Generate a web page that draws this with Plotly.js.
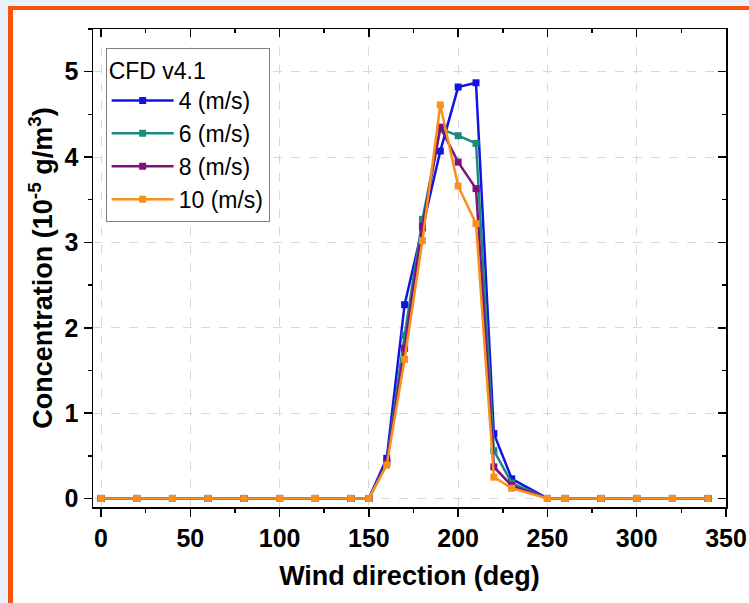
<!DOCTYPE html>
<html>
<head>
<meta charset="utf-8">
<script src="https://cdn.plot.ly/plotly-3.0.1.min.js"></script>
<style>
  html, body { margin: 0; padding: 0; background: #eaf1fb; width: 749px; height: 603px; overflow: hidden; }
  #frame { position: absolute; left: 8px; top: 6px; width: 741px; height: 597px; box-sizing: border-box;
           border-left: 5px solid #f5530f; border-top: 4px solid #f5530f; background: #ffffff; }
  #chart { position: absolute; left: 0; top: 0; width: 736px; height: 593px; }
</style>
</head>
<body>
<div id="frame"><div id="chart"></div></div>
<script>
const windDir = [0, 20, 40, 60, 80, 100, 120, 140, 150, 160, 170, 180, 190, 200, 210, 220, 230, 250, 260, 280, 300, 320, 340];
const conc4  = [0, 0, 0, 0, 0, 0, 0, 0, 0, 0.47, 2.27, 3.17, 4.07, 4.82, 4.87, 0.76, 0.23, 0, 0, 0, 0, 0, 0];
const conc6  = [0, 0, 0, 0, 0, 0, 0, 0, 0, 0.42, 1.91, 3.27, 4.33, 4.25, 4.16, 0.56, 0.18, 0, 0, 0, 0, 0, 0];
const conc8  = [0, 0, 0, 0, 0, 0, 0, 0, 0, 0.42, 1.76, 3.19, 4.35, 3.94, 3.63, 0.37, 0.15, 0, 0, 0, 0, 0, 0];
const conc10 = [0, 0, 0, 0, 0, 0, 0, 0, 0, 0.39, 1.63, 3.02, 4.61, 3.66, 3.22, 0.25, 0.12, 0, 0, 0, 0, 0, 0];
const seriesNames = ['4 (m/s)', '6 (m/s)', '8 (m/s)', '10 (m/s)'];
const seriesColors = ['#1414e0', '#1b8a80', '#7d127f', '#f7901e'];
const seriesValues = [conc4, conc6, conc8, conc10];

const traces = seriesValues.map((vals, i) => ({
  type: 'scatter', mode: 'lines+markers',
  x: windDir, y: vals, name: seriesNames[i],
  line: { color: seriesColors[i], width: 2.5 },
  marker: { color: seriesColors[i], symbol: 'square', size: 7 }
}));
// empty helper trace so the mirrored top/right axes are drawn
traces.push({ type: 'scatter', mode: 'markers', x: [], y: [], xaxis: 'x2', yaxis: 'y2', showlegend: false, hoverinfo: 'skip' });

const baseFont = 'Liberation Sans, Arial, sans-serif';
const xr = [-4.5, 350];
const yr = [-0.1, 5.5];

const layout = {
  width: 736, height: 593,
  margin: { l: 80, r: 23, t: 19, b: 96 },
  paper_bgcolor: 'rgba(0,0,0,0)',
  plot_bgcolor: '#ffffff',
  showlegend: true,
  legend: {
    x: 0.02, y: 0.96, xanchor: 'left', yanchor: 'top',
    bgcolor: '#ffffff', bordercolor: '#808080', borderwidth: 1,
    font: { family: baseFont, size: 23, color: '#000' },
    title: { text: 'CFD v4.1', font: { family: baseFont, size: 23, color: '#000' } },
    itemwidth: 62
  },
  xaxis: {
    range: xr, tick0: 0, dtick: 50, ticks: 'outside', ticklen: 8, tickwidth: 1.5, tickcolor: '#000',
    showline: true, linecolor: '#000', linewidth: 1.5, zeroline: false, automargin: false,
    showgrid: true, gridcolor: '#d8d8d8', griddash: 'dash', gridwidth: 1,
    minor: { dtick: 25, ticks: 'outside', ticklen: 4, tickwidth: 1.5, tickcolor: '#000', showgrid: false },
    tickfont: { family: baseFont, size: 25, color: '#000', weight: 'bold' },
    title: { text: 'Wind direction (deg)', font: { family: baseFont, size: 27, color: '#000', weight: 'bold' }, standoff: 15 }
  },
  yaxis: {
    range: yr, tick0: 0, dtick: 1, ticks: 'outside', ticklen: 8, tickwidth: 1.5, tickcolor: '#000',
    showline: true, linecolor: '#000', linewidth: 1.5, zeroline: false, automargin: false,
    showgrid: true, gridcolor: '#d8d8d8', griddash: 'dash', gridwidth: 1,
    minor: { dtick: 0.5, ticks: 'outside', ticklen: 4, tickwidth: 1.5, tickcolor: '#000', showgrid: false },
    tickfont: { family: baseFont, size: 25, color: '#000', weight: 'bold' },
    title: { text: 'Concentration (10<sup>-5</sup> g/m<sup>3</sup>)', font: { family: baseFont, size: 27, color: '#000', weight: 'bold' }, standoff: 4 }
  },
  xaxis2: {
    overlaying: 'x', side: 'top', anchor: 'y', range: xr, tick0: 0, dtick: 50, automargin: false,
    ticks: 'inside', ticklen: 8, tickwidth: 1.5, tickcolor: '#000', showticklabels: false,
    showline: true, linecolor: '#000', linewidth: 1.5, zeroline: false, showgrid: false,
    minor: { dtick: 25, ticks: 'inside', ticklen: 4, tickwidth: 1.5, tickcolor: '#000', showgrid: false }
  },
  yaxis2: {
    overlaying: 'y', side: 'right', anchor: 'x', range: yr, tick0: 0, dtick: 1, automargin: false,
    ticks: 'inside', ticklen: 8, tickwidth: 1.5, tickcolor: '#000', showticklabels: false,
    showline: true, linecolor: '#000', linewidth: 1.5, zeroline: false, showgrid: false,
    minor: { dtick: 0.5, ticks: 'inside', ticklen: 4, tickwidth: 1.5, tickcolor: '#000', showgrid: false }
  }
};

Plotly.newPlot('chart', traces, layout, { displayModeBar: false, staticPlot: true });
</script>
</body>
</html>
